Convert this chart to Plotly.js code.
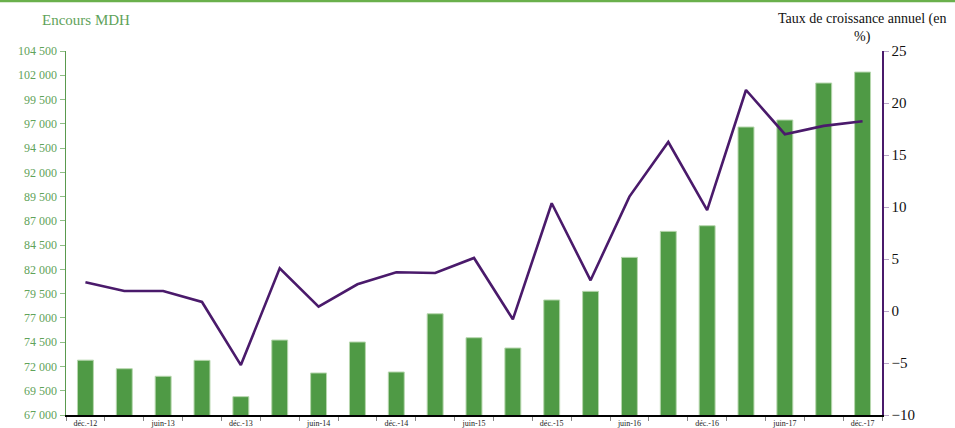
<!DOCTYPE html>
<html>
<head>
<meta charset="utf-8">
<script src="https://cdn.plot.ly/plotly-3.0.1.min.js"></script>
<style>html,body{margin:0;padding:0;background:#fff;}#chart{width:955px;height:428px;}</style>
</head>
<body>
<div id="chart"></div>
<script>
var categories = ["déc.-12","mars-13","juin-13","sept.-13","déc.-13","mars-14","juin-14","sept.-14","déc.-14","mars-15","juin-15","sept.-15","déc.-15","mars-16","juin-16","sept.-16","déc.-16","mars-17","juin-17","sept.-17","déc.-17"];
var tickLabels = ["déc.-12","","juin-13","","déc.-13","","juin-14","","déc.-14","","juin-15","","déc.-15","","juin-16","","déc.-16","","juin-17","","déc.-17"];
var encours = [72650,71770,70990,72630,68890,74720,71330,74520,71430,77430,74960,73900,78850,79740,83240,85920,86500,96670,97390,101200,102330];
var croissance = [2.76,1.92,1.92,0.87,-5.2,4.1,0.41,2.57,3.72,3.65,5.1,-0.8,10.36,2.95,11.0,16.25,9.7,21.25,17.0,17.8,18.24];

var serif = "'Liberation Serif', 'Times New Roman', Times, serif";
var green = "#4f9a45";
var purple = "#4a1a6b";

var traces = [
  {type:"bar", x:categories, y:encours, yaxis:"y", width:0.41,
   marker:{color:green, line:{color:"#b7d7ae", width:1}}, hoverinfo:"x+y"},
  {type:"scatter", mode:"lines", x:categories, y:croissance, yaxis:"y2",
   line:{color:purple, width:2.6}, hoverinfo:"x+y"}
];

var layout = {
  width:955, height:428,
  margin:{l:66, r:73, t:51, b:13},
  paper_bgcolor:"#fff", plot_bgcolor:"#fff",
  showlegend:false,
  separators:", ",
  font:{family:serif},
  xaxis:{type:"category", tickson:"boundaries", tickvals:categories, ticktext:tickLabels,
    ticks:"outside", ticklen:4, tickcolor:"#888", tickwidth:1,
    showline:true, linecolor:"#000", linewidth:1.5, showgrid:false, zeroline:false,
    tickfont:{size:8, color:"#222", family:serif}, automargin:false, range:[-0.5,20.5]},
  yaxis:{range:[67000,104500], dtick:2500, tick0:67000, tickformat:",d",
    ticks:"outside", ticklen:5, tickcolor:"#8fbf85", tickwidth:1,
    showline:true, linecolor:"#5a9a4e", linewidth:1.5, showgrid:false, zeroline:false,
    tickfont:{size:12, color:"#5fa35a", family:serif}, automargin:false},
  yaxis2:{range:[-10,25], dtick:5, overlaying:"y", side:"right",
    ticks:"outside", ticklen:5, tickcolor:"#b9a6c9", tickwidth:1,
    showline:true, linecolor:purple, linewidth:1.5, showgrid:false, zeroline:false,
    tickfont:{size:15, color:"#111", family:serif}, automargin:false},
  annotations:[
    {xref:"paper", yref:"paper", x:(40-66)/816, y:(415-20)/364, xanchor:"left", yanchor:"middle",
     text:"Encours MDH", showarrow:false, font:{size:15, color:"#5fa35a", family:serif}},
    {xref:"paper", yref:"paper", x:(862-66)/816, y:(415-28)/364, xanchor:"center", yanchor:"middle",
     text:"Taux de croissance annuel (en<br>%)", showarrow:false, align:"center",
     font:{size:14, color:"#111", family:serif}}
  ],
  shapes:[
    {type:"line", xref:"paper", yref:"paper", x0:-66/816, x1:(955-66)/816, y0:(415-1)/364, y1:(415-1)/364,
     line:{color:"#6ab04c", width:2.5}}
  ]
};

Plotly.newPlot("chart", traces, layout, {displayModeBar:false, staticPlot:true});
</script>
</body>
</html>
